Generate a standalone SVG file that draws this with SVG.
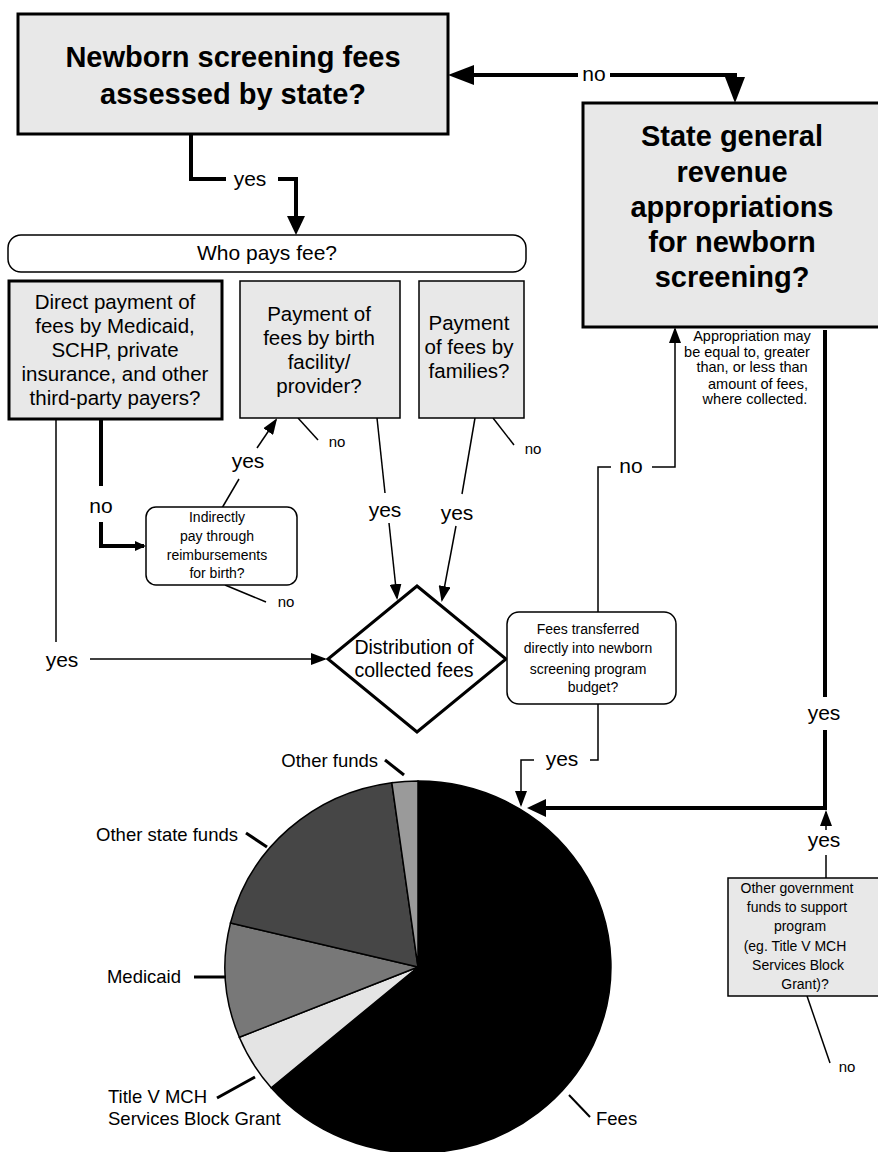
<svg xmlns="http://www.w3.org/2000/svg" width="878" height="1152" viewBox="0 0 878 1152">
<style>
text{font-family:"Liberation Sans",Arial,Helvetica,sans-serif;fill:#000}
.tb{font-size:29px;font-weight:bold;text-anchor:middle}
.tm{font-size:20.5px;text-anchor:middle}
.ts{font-size:14px;text-anchor:middle}
.tn{font-size:14.5px;text-anchor:middle}
.lab{font-size:21px;text-anchor:middle}
.lsm{font-size:15px;text-anchor:middle}
.pl{font-size:18.5px}
.boxg{fill:#e8e8e8;stroke:#000}
.thick{stroke-width:3}
.thin{stroke-width:1.5}
.rnd{fill:#fff;stroke:#000;stroke-width:1.5}
.ck{fill:none;stroke:#000;stroke-width:4}
.cn{fill:none;stroke:#000;stroke-width:1.5}
.dot{fill:none;stroke:#000;stroke-width:4;stroke-dasharray:5 4}
.pie{stroke:#000;stroke-width:1.5}
.ld{stroke:#000;stroke-width:3}
</style>
<defs>
<marker id="ahBig" markerUnits="userSpaceOnUse" markerWidth="26" markerHeight="20" refX="20" refY="10" orient="auto"><path d="M0,0 L26,10 L0,20 Z" fill="#000"/></marker>
<marker id="ahThk" markerUnits="userSpaceOnUse" markerWidth="19" markerHeight="18" refX="14" refY="9" orient="auto"><path d="M0,0 L19,9 L0,18 Z" fill="#000"/></marker>
<marker id="ahDn" markerUnits="userSpaceOnUse" markerWidth="14" markerHeight="16" refX="9" refY="8" orient="auto"><path d="M0,0 L14,8 L0,16 Z" fill="#000"/></marker>
<marker id="ahMid" markerUnits="userSpaceOnUse" markerWidth="16" markerHeight="12" refX="14" refY="6" orient="auto"><path d="M0,0 L16,6 L0,12 Z" fill="#000"/></marker>
<marker id="ahSm" markerUnits="userSpaceOnUse" markerWidth="11" markerHeight="10" refX="9" refY="5" orient="auto"><path d="M0,0 L11,5 L0,10 Z" fill="#000"/></marker>
</defs>
<rect width="878" height="1152" fill="#fff"/>

<g id="connectors">
<path class="ck" d="M578,75 L454,75" marker-end="url(#ahBig)"/>
<path class="ck" d="M610,75 L735,75 L735,97" marker-end="url(#ahBig)"/>
<path class="ck" d="M191,134 L191,179 L226,179"/>
<path class="ck" d="M278,179 L296,179 L296,230" marker-end="url(#ahThk)"/>
<path class="cn" d="M56,420 L56,642"/>
<path class="cn" d="M90,659 L325,659" marker-end="url(#ahMid)"/>
<path class="ck" d="M101,420 L101,486"/>
<path class="ck" d="M101,522 L101,546 L144,546" marker-end="url(#ahSm)"/>
<path class="cn" d="M222,508 L239,479"/>
<path class="cn" d="M257,448 L276,420" marker-end="url(#ahMid)"/>
<path class="cn" d="M225,585 L266,602"/>
<path class="cn" d="M298,418 L318,440"/>
<path class="cn" d="M493,418 L514,445"/>
<path class="cn" d="M377,418 L385,493"/>
<path class="cn" d="M389,523 L397,598" marker-end="url(#ahMid)"/>
<path class="cn" d="M475,418 L462,494"/>
<path class="cn" d="M456,526 L442,600" marker-end="url(#ahMid)"/>
<path class="cn" d="M598,612 L598,467 L611,467"/>
<path class="cn" d="M652,467 L675,467 L675,329" marker-end="url(#ahMid)"/>
<path class="dot" d="M675,326 L675,308 L822,308"/>
<path class="ck" d="M825,308 L825,318" marker-end="url(#ahDn)"/>
<path class="ck" d="M825,330 L825,697"/>
<path class="ck" d="M825,730 L825,808 L532,808" marker-end="url(#ahThk)"/>
<path class="cn" d="M598,704 L598,760 L590,760"/>
<path class="cn" d="M534,760 L521,760 L521,805" marker-end="url(#ahMid)"/>
<path class="cn" d="M826,878 L826,855"/>
<path class="cn" d="M826,830 L826,812" marker-end="url(#ahMid)"/>
<path class="cn" d="M807,996 L830,1063"/>
</g>

<g id="labels">
<text class="lab" x="594" y="81">no</text>
<text class="lab" x="250" y="186">yes</text>
<text class="lab" x="62" y="667">yes</text>
<text class="lab" x="101" y="513">no</text>
<text class="lab" x="248" y="468">yes</text>
<text class="lsm" x="286" y="607">no</text>
<text class="lsm" x="337" y="447">no</text>
<text class="lsm" x="533" y="454">no</text>
<text class="lab" x="385" y="517">yes</text>
<text class="lab" x="457" y="520">yes</text>
<text class="lab" x="631" y="473">no</text>
<text class="lab" x="824" y="720">yes</text>
<text class="lab" x="562" y="766">yes</text>
<text class="lab" x="824" y="847">yes</text>
<text class="lsm" x="847" y="1072">no</text>
</g>

<g id="node-fees-assessed">
<rect class="boxg thick" x="18" y="14" width="430" height="120"/>
<text class="tb" x="233" y="67">Newborn screening fees</text>
<text class="tb" x="233" y="104">assessed by state?</text>
</g>

<g id="node-state-revenue">
<rect class="boxg thick" x="583" y="103" width="300" height="224"/>
<text class="tb" x="732" y="146">State general</text>
<text class="tb" x="732" y="182">revenue</text>
<text class="tb" x="732" y="217">appropriations</text>
<text class="tb" x="732" y="252">for newborn</text>
<text class="tb" x="732" y="287">screening?</text>
</g>

<g id="node-appropriation-note">
<text class="tn" x="752" y="341">Appropriation may</text>
<text class="tn" x="747" y="357">be equal to, greater</text>
<text class="tn" x="752" y="372">than, or less than</text>
<text class="tn" x="758" y="389">amount of fees,</text>
<text class="tn" x="755" y="404">where collected.</text>
</g>

<g id="node-who-pays">
<rect class="rnd" x="8" y="235" width="518" height="37" rx="13"/>
<text class="lab" x="267" y="260">Who pays fee?</text>
</g>

<g id="node-direct-payment">
<rect class="boxg thick" x="9" y="281" width="213" height="138"/>
<text class="tm" x="115" y="309">Direct payment of</text>
<text class="tm" x="115" y="333">fees by Medicaid,</text>
<text class="tm" x="115" y="357">SCHP, private</text>
<text class="tm" x="115" y="381">insurance, and other</text>
<text class="tm" x="115" y="405">third-party payers?</text>
</g>

<g id="node-birth-facility">
<rect class="boxg thin" x="240" y="281" width="160" height="137"/>
<text class="tm" x="319" y="321">Payment of</text>
<text class="tm" x="319" y="345">fees by birth</text>
<text class="tm" x="319" y="369">facility/</text>
<text class="tm" x="319" y="393">provider?</text>
</g>

<g id="node-families">
<rect class="boxg thin" x="419" y="281" width="105" height="137"/>
<text class="tm" x="469" y="330">Payment</text>
<text class="tm" x="469" y="354">of fees by</text>
<text class="tm" x="469" y="378">families?</text>
</g>

<g id="node-indirect">
<rect class="rnd" x="146" y="507" width="151" height="78" rx="10"/>
<text class="ts" x="217" y="522">Indirectly</text>
<text class="ts" x="217" y="541">pay through</text>
<text class="ts" x="217" y="560">reimbursements</text>
<text class="ts" x="217" y="578">for birth?</text>
</g>

<g id="node-distribution">
<polygon points="417,586 506,659 417,732 328,659" fill="#fff" stroke="#000" stroke-width="3"/>
<text class="lab" style="font-size:19.5px" x="414" y="654">Distribution of</text>
<text class="lab" style="font-size:19.5px" x="414" y="677">collected fees</text>
</g>

<g id="node-fees-transferred">
<rect class="rnd" x="507" y="612" width="169" height="92" rx="12"/>
<text class="ts" x="588" y="634">Fees transferred</text>
<text class="ts" x="588" y="653">directly into newborn</text>
<text class="ts" x="588" y="674">screening program</text>
<text class="ts" x="593" y="692">budget?</text>
</g>

<g id="node-other-gov">
<rect class="boxg thin" x="728" y="878" width="154" height="118"/>
<text class="ts" x="797" y="893">Other government</text>
<text class="ts" x="797" y="912">funds to support</text>
<text class="ts" x="800" y="931">program</text>
<text class="ts" x="795" y="951">(eg. Title V MCH</text>
<text class="ts" x="798" y="970">Services Block</text>
<text class="ts" x="805" y="989">Grant)?</text>
</g>

<g id="node-pie">
<path class="pie" fill="#000" d="M418,967 L418,781 A193,186 0 1 1 271.2,1087.8 Z"/>
<path class="pie" fill="#e4e4e4" d="M418,967 L271.2,1087.8 A193,186 0 0 1 239.3,1037.3 Z"/>
<path class="pie" fill="#787878" d="M418,967 L239.3,1037.3 A193,186 0 0 1 230.5,923 Z"/>
<path class="pie" fill="#464646" d="M418,967 L230.5,923 A193,186 0 0 1 391.8,782.7 Z"/>
<path class="pie" fill="#9a9a9a" d="M418,967 L391.8,782.7 A193,186 0 0 1 418,781 Z"/>
<line class="ld" x1="385" y1="760" x2="404" y2="775"/>
<line class="ld" x1="246" y1="833" x2="267" y2="847"/>
<line class="ld" x1="194" y1="977" x2="226" y2="977"/>
<line class="ld" x1="217" y1="1098" x2="255" y2="1077"/>
<line stroke="#000" stroke-width="2" x1="569" y1="1095" x2="590" y2="1117"/>
<text class="pl" x="378" y="767" text-anchor="end">Other funds</text>
<text class="pl" x="238" y="841" text-anchor="end">Other state funds</text>
<text class="pl" x="181" y="983" text-anchor="end">Medicaid</text>
<text class="pl" x="108" y="1103">Title V MCH</text>
<text class="pl" x="108" y="1125">Services Block Grant</text>
<text class="pl" x="596" y="1125">Fees</text>
</g>
</svg>
